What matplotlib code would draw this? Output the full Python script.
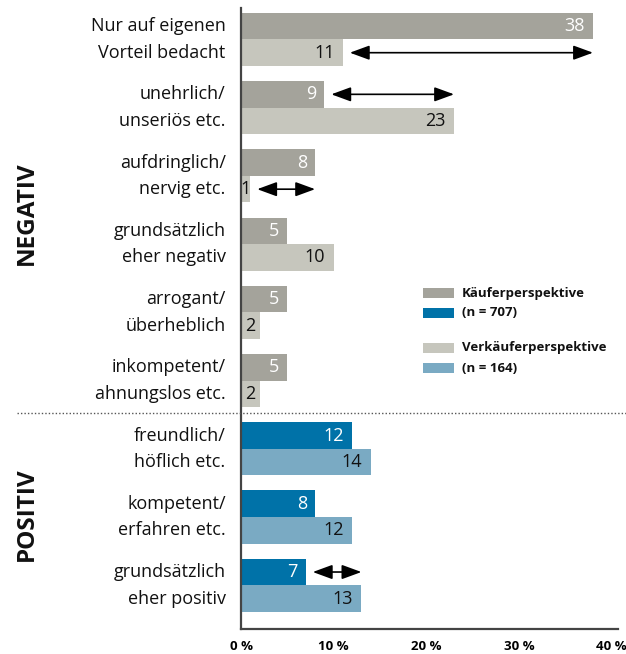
import matplotlib
matplotlib.use("Agg")
import matplotlib.pyplot as plt
from matplotlib.patches import Rectangle
from matplotlib.lines import Line2D

# ---- data ----
categories = [
    "Nur auf eigenen\nVorteil bedacht",
    "unehrlich/\nunseriös etc.",
    "aufdringlich/\nnervig etc.",
    "grundsätzlich\neher negativ",
    "arrogant/\nüberheblich",
    "inkompetent/\nahnungslos etc.",
    "freundlich/\nhöflich etc.",
    "kompetent/\nerfahren etc.",
    "grundsätzlich\neher positiv",
]
kaeufer = [38, 9, 8, 5, 5, 5, 12, 8, 7]
verkaeufer = [11, 23, 1, 10, 2, 2, 14, 12, 13]
is_negative = [True, True, True, True, True, True, False, False, False]
arrow_groups = [0, 1, 2, 8]
xticks = [0, 10, 20, 30, 40]
xticklabels = ["0 %", "10 %", "20 %", "30 %", "40 %"]
legend_labels = [("Käuferperspektive", "(n = 707)"), ("Verkäuferperspektive", "(n = 164)")]
section_labels = ["NEGATIV", "POSITIV"]

# ---- style ----
W, H = 626, 654
FONT = "Open Sans"
c_kneg, c_vneg = "#a4a39b", "#c6c6bd"
c_kpos, c_vpos = "#0072a8", "#7aaac3"

plt.rcParams["font.family"] = [FONT, "DejaVu Sans"]

fig = plt.figure(figsize=(W / 100, H / 100), dpi=100)
def fx(px): return px / W
def fy(py): return 1 - py / H

ax = fig.add_axes([fx(241), fy(629), (618 - 241) / W, (629 - 8) / H])

bh = 0.39
n = len(categories)
LBL = 13

def value_label(v, y, color):
    if v < 3:
        ax.annotate(str(v), xy=(v / 2, y), ha="center", va="center",
                    color=color, fontsize=LBL)
    else:
        ax.annotate(str(v), xy=(v, y), xytext=(-6, 0),
                    textcoords="offset points", ha="right", va="center",
                    color=color, fontsize=LBL)

for i in range(n):
    ck = c_kneg if is_negative[i] else c_kpos
    cv = c_vneg if is_negative[i] else c_vpos
    yk, yv = i - bh / 2, i + bh / 2
    ax.barh(yk, kaeufer[i], height=bh, color=ck, edgecolor="none")
    ax.barh(yv, verkaeufer[i], height=bh, color=cv, edgecolor="none")
    value_label(kaeufer[i], yk, "white")
    value_label(verkaeufer[i], yv, "#111111")
    l1, l2 = categories[i].split("\n")
    for txt, yy in ((l1, yk), (l2, yv)):
        ax.annotate(txt, xy=(0, yy), xycoords=("axes fraction", "data"),
                    xytext=(-11, 0), textcoords="offset points",
                    ha="right", va="center", fontsize=LBL, color="#111111")

for g in arrow_groups:
    lo, hi = min(kaeufer[g], verkaeufer[g]), max(kaeufer[g], verkaeufer[g])
    y = g - bh / 2 if kaeufer[g] < verkaeufer[g] else g + bh / 2
    ax.annotate("", xy=(hi, y), xytext=(lo, y),
                arrowprops=dict(arrowstyle="<|-|>,head_length=0.6,head_width=0.22",
                                mutation_scale=20, color="black", lw=1.2,
                                shrinkA=5, shrinkB=0))

ax.set_xlim(0, 40.7)
ax.set_ylim(n - 1 + 0.64, -0.46)
ax.set_yticks([])
ax.set_xticks(xticks)
ax.set_xticklabels(xticklabels, fontweight="bold", fontsize=9.5)
ax.tick_params(axis="x", length=0, pad=8)
for s in ("top", "right"):
    ax.spines[s].set_visible(False)
for s in ("left", "bottom"):
    ax.spines[s].set_color("#444444")
    ax.spines[s].set_linewidth(1.6)

# dotted separator
fig.add_artist(Line2D([fx(17), fx(626)], [fy(413), fy(413)], transform=fig.transFigure,
                      color="#555555", lw=1, linestyle=(0, (1, 1.5))))

# section labels
for lab, cy in zip(section_labels, (213, 514)):
    fig.text(fx(27), fy(cy), lab, rotation=90, ha="center", va="center",
             fontsize=17.5, fontweight="bold", color="#111111")

# legend
sw = [(c_kneg, c_kpos), (c_vneg, c_vpos)]
tops = [288, 343]
for (ca, cb), (t1, t2), top in zip(sw, legend_labels, tops):
    fig.add_artist(Rectangle((fx(423), fy(top + 10)), 31 / W, 10 / H,
                             transform=fig.transFigure, color=ca, lw=0))
    fig.add_artist(Rectangle((fx(423), fy(top + 30)), 31 / W, 10 / H,
                             transform=fig.transFigure, color=cb, lw=0))
    fig.text(fx(462), fy(top + 5), t1, ha="left", va="center", fontsize=9.5,
             fontweight="bold", color="#111111")
    fig.text(fx(462), fy(top + 25), t2, ha="left", va="center", fontsize=9.5,
             fontweight="bold", color="#111111")

fig.savefig("out.png", dpi=100)
